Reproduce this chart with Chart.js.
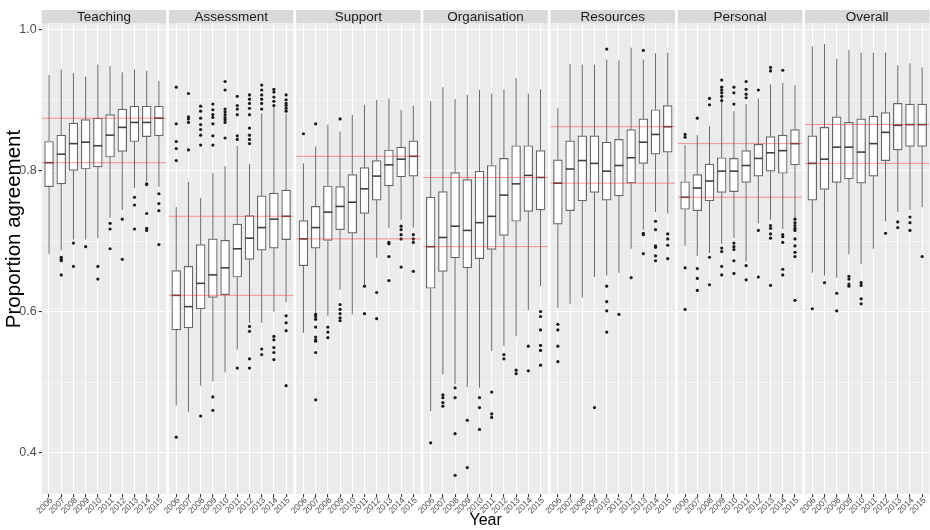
<!DOCTYPE html>
<html>
<head>
<meta charset="utf-8">
<script src="https://cdn.jsdelivr.net/npm/chart.js@4.4.1/dist/chart.umd.min.js"></script>
<style>
  body { margin: 0; background: #fff; }
  canvas { display: block; }
</style>
</head>
<body>
<canvas id="myChart" width="930" height="530"></canvas>
<script>
const facets = ["Teaching", "Assessment", "Support", "Organisation", "Resources", "Personal", "Overall"];
const years = ["2006", "2007", "2008", "2009", "2010", "2011", "2012", "2013", "2014", "2015"];

// one row per facet, one value per year
const whiskerLow = [
  [0.682, 0.687, 0.702, 0.702, 0.704, 0.733, 0.744, 0.775, 0.784, 0.777],
  [0.467, 0.458, 0.495, 0.501, 0.514, 0.546, 0.584, 0.584, 0.600, 0.613],
  [0.570, 0.598, 0.594, 0.631, 0.596, 0.638, 0.676, 0.718, 0.730, 0.719],
  [0.459, 0.511, 0.497, 0.493, 0.492, 0.544, 0.551, 0.565, 0.602, 0.636],
  [0.605, 0.611, 0.620, 0.649, 0.651, 0.655, 0.689, 0.716, 0.741, 0.739],
  [0.693, 0.679, 0.683, 0.696, 0.704, 0.671, 0.725, 0.730, 0.717, 0.733],
  [0.655, 0.651, 0.648, 0.681, 0.667, 0.689, 0.728, 0.741, 0.744, 0.748],
];
const q1 = [
  [0.777, 0.781, 0.800, 0.802, 0.805, 0.819, 0.827, 0.841, 0.848, 0.849],
  [0.574, 0.577, 0.604, 0.620, 0.624, 0.649, 0.674, 0.687, 0.690, 0.702],
  [0.665, 0.690, 0.701, 0.716, 0.711, 0.739, 0.758, 0.778, 0.791, 0.792],
  [0.633, 0.657, 0.676, 0.662, 0.675, 0.688, 0.708, 0.728, 0.742, 0.744],
  [0.724, 0.743, 0.757, 0.769, 0.758, 0.764, 0.782, 0.810, 0.823, 0.826],
  [0.745, 0.743, 0.757, 0.769, 0.770, 0.783, 0.792, 0.799, 0.796, 0.808],
  [0.758, 0.773, 0.783, 0.788, 0.782, 0.792, 0.814, 0.829, 0.834, 0.834],
];
const median = [
  [0.811, 0.823, 0.838, 0.840, 0.835, 0.850, 0.861, 0.868, 0.868, 0.874],
  [0.623, 0.607, 0.640, 0.652, 0.662, 0.689, 0.704, 0.719, 0.731, 0.735],
  [0.703, 0.719, 0.741, 0.749, 0.755, 0.774, 0.792, 0.808, 0.816, 0.820],
  [0.692, 0.705, 0.721, 0.715, 0.726, 0.735, 0.765, 0.781, 0.793, 0.790],
  [0.782, 0.802, 0.814, 0.810, 0.799, 0.807, 0.818, 0.840, 0.851, 0.862],
  [0.762, 0.775, 0.785, 0.799, 0.799, 0.807, 0.817, 0.825, 0.828, 0.838],
  [0.810, 0.816, 0.833, 0.833, 0.826, 0.838, 0.854, 0.864, 0.865, 0.865],
];
const q3 = [
  [0.841, 0.850, 0.867, 0.872, 0.874, 0.879, 0.887, 0.891, 0.891, 0.891],
  [0.658, 0.664, 0.695, 0.703, 0.701, 0.724, 0.736, 0.764, 0.768, 0.772],
  [0.729, 0.749, 0.778, 0.777, 0.794, 0.804, 0.814, 0.829, 0.833, 0.842],
  [0.762, 0.770, 0.797, 0.787, 0.799, 0.807, 0.817, 0.835, 0.835, 0.828],
  [0.815, 0.842, 0.849, 0.849, 0.840, 0.844, 0.858, 0.873, 0.886, 0.892],
  [0.784, 0.794, 0.809, 0.818, 0.817, 0.828, 0.837, 0.848, 0.850, 0.858],
  [0.849, 0.861, 0.876, 0.868, 0.873, 0.877, 0.882, 0.895, 0.894, 0.894],
];
const whiskerHigh = [
  [0.935, 0.943, 0.938, 0.933, 0.950, 0.948, 0.939, 0.943, 0.941, 0.927],
  [0.748, 0.784, 0.761, 0.796, 0.806, 0.835, 0.809, 0.881, 0.892, 0.880],
  [0.810, 0.834, 0.865, 0.855, 0.879, 0.893, 0.900, 0.902, 0.886, 0.892],
  [0.898, 0.918, 0.901, 0.907, 0.914, 0.909, 0.915, 0.931, 0.909, 0.915],
  [0.888, 0.951, 0.950, 0.950, 0.957, 0.956, 0.974, 0.957, 0.966, 0.967],
  [0.836, 0.850, 0.863, 0.905, 0.884, 0.894, 0.902, 0.922, 0.924, 0.921],
  [0.976, 0.979, 0.958, 0.971, 0.967, 0.967, 0.967, 0.949, 0.952, 0.946],
];
const outliers = [
  [[], [0.677, 0.674, 0.672, 0.652], [0.697, 0.664], [0.692], [0.664, 0.646], [0.725, 0.717, 0.689], [0.731, 0.674], [0.762, 0.751, 0.717], [0.781, 0.780, 0.739, 0.718, 0.715], [0.767, 0.753, 0.743, 0.695]],
  [[0.918, 0.866, 0.841, 0.831, 0.814, 0.422], [0.909, 0.876, 0.873, 0.868, 0.829], [0.891, 0.884, 0.874, 0.865, 0.858, 0.850, 0.836, 0.452], [0.894, 0.886, 0.879, 0.875, 0.866, 0.849, 0.836, 0.479, 0.460], [0.926, 0.914, 0.887, 0.883, 0.879, 0.875, 0.872, 0.868, 0.846], [0.905, 0.892, 0.887, 0.879, 0.849, 0.844, 0.520], [0.907, 0.901, 0.895, 0.888, 0.879, 0.860, 0.850, 0.844, 0.838, 0.579, 0.572, 0.533, 0.520], [0.921, 0.914, 0.907, 0.901, 0.895, 0.887, 0.547, 0.539], [0.915, 0.911, 0.904, 0.898, 0.892, 0.565, 0.560, 0.549, 0.542, 0.532], [0.907, 0.900, 0.895, 0.892, 0.888, 0.884, 0.594, 0.584, 0.573, 0.495]],
  [[0.852], [0.866, 0.596, 0.593, 0.589, 0.578, 0.564, 0.560, 0.558, 0.542, 0.475], [0.578, 0.571, 0.563], [0.873, 0.610, 0.603, 0.597, 0.591, 0.587], [], [0.636, 0.597], [0.627, 0.590], [0.698, 0.696, 0.678, 0.644], [0.721, 0.716, 0.709, 0.703, 0.663], [0.709, 0.703, 0.698, 0.657]],
  [[0.414], [0.482, 0.478, 0.471, 0.466], [0.492, 0.478, 0.427, 0.368], [0.446, 0.379], [0.478, 0.464, 0.433], [0.486, 0.455, 0.450], [0.539, 0.533], [0.517, 0.512], [0.551, 0.516], [0.600, 0.593, 0.574, 0.552, 0.545, 0.524]],
  [[0.582, 0.574, 0.551, 0.529], [], [], [0.464], [0.972, 0.636, 0.614, 0.601, 0.571], [0.596], [0.648], [0.970, 0.711, 0.709, 0.682], [0.728, 0.716, 0.693, 0.691, 0.679, 0.672], [0.710, 0.703, 0.694, 0.675]],
  [[0.851, 0.847, 0.662, 0.603], [0.874, 0.661, 0.647, 0.630], [0.902, 0.893, 0.677, 0.638], [0.928, 0.918, 0.914, 0.910, 0.905, 0.899, 0.690, 0.685, 0.664, 0.652], [0.918, 0.910, 0.894, 0.697, 0.692, 0.688, 0.672, 0.654], [0.926, 0.915, 0.908, 0.903, 0.665, 0.645], [0.914, 0.715, 0.649], [0.946, 0.941, 0.722, 0.718, 0.710, 0.704, 0.637], [0.942, 0.709, 0.706, 0.698, 0.660, 0.652], [0.731, 0.726, 0.722, 0.718, 0.715, 0.703, 0.693, 0.684, 0.678, 0.616]],
  [[0.604], [0.641], [0.626, 0.601], [0.650, 0.646, 0.639, 0.636], [0.641, 0.637, 0.618, 0.611], [], [0.711], [0.727, 0.719], [0.734, 0.726, 0.715], [0.678]],
];
const yTicks = [0.4, 0.5, 0.6, 0.7, 0.8, 0.9, 1.0];

// facet layout on the x axis (in box units)
const STEP = 10.42;
const PANEL_W = 10.2;
const FONT = "'Liberation Sans', Arial, sans-serif";

const boxX = [];
const boxes = [];
const outlierPts = [];
facets.forEach((name, f) => {
  years.forEach((yr, i) => {
    const x = f * STEP + 0.6 + i;
    boxX.push(x);
    boxes.push({ x: x, y: [q1[f][i], q3[f][i]], lo: whiskerLow[f][i], hi: whiskerHigh[f][i], med: median[f][i] });
    outliers[f][i].forEach((v) => outlierPts.push({ x: x, y: v }));
  });
});

// red reference lines at first and last year medians
const refSets = [];
facets.forEach((name, f) => {
  [median[f][0], median[f][9]].forEach((m) => {
    refSets.push({
      type: "line",
      data: [{ x: f * STEP, y: m }, { x: f * STEP + PANEL_W, y: m }],
      borderColor: "rgba(255, 50, 50, 0.5)",
      borderWidth: 1,
      pointRadius: 0,
      order: 1,
    });
  });
});

const panels = {
  id: "panels",
  beforeDraw(chart) {
    const { ctx, chartArea, scales } = chart;
    ctx.save();
    facets.forEach((name, f) => {
      const a = scales.x.getPixelForValue(f * STEP);
      const b = scales.x.getPixelForValue(f * STEP + PANEL_W);
      ctx.fillStyle = "#ebebeb";
      ctx.fillRect(a, chartArea.top, b - a, chartArea.bottom - chartArea.top);
      ctx.fillStyle = "#d9d9d9";
      ctx.fillRect(a, 10, b - a, chartArea.top - 10);
      ctx.fillStyle = "#1a1a1a";
      ctx.font = "13.5px " + FONT;
      ctx.textAlign = "center";
      ctx.textBaseline = "middle";
      ctx.fillText(name, (a + b) / 2, (10 + chartArea.top) / 2 + 0.5);
    });
    // year labels, rotated 45 degrees under each box
    ctx.fillStyle = "#4d4d4d";
    ctx.font = "8.5px " + FONT;
    ctx.textAlign = "right";
    ctx.textBaseline = "middle";
    boxX.forEach((v, k) => {
      ctx.save();
      ctx.translate(scales.x.getPixelForValue(v) + 2.5, chartArea.bottom + 5);
      ctx.rotate(-Math.PI / 4);
      ctx.fillText(years[k % years.length], 0, 0);
      ctx.restore();
    });
    // y axis title
    ctx.translate(14, 229);
    ctx.rotate(-Math.PI / 2);
    ctx.fillStyle = "#000000";
    ctx.font = "20.5px " + FONT;
    ctx.textAlign = "center";
    ctx.fillText("Proportion agreement", 0, 0);
    ctx.restore();
  },
  beforeDatasetsDraw(chart) {
    const { ctx, scales } = chart;
    const meta = chart.getDatasetMeta(0);
    ctx.save();
    ctx.strokeStyle = "#6a6a6a";
    ctx.lineWidth = 1;
    boxes.forEach((b, k) => {
      const el = meta.data[k];
      ctx.beginPath();
      ctx.moveTo(el.x, scales.y.getPixelForValue(b.lo));
      ctx.lineTo(el.x, scales.y.getPixelForValue(b.y[0]));
      ctx.moveTo(el.x, scales.y.getPixelForValue(b.y[1]));
      ctx.lineTo(el.x, scales.y.getPixelForValue(b.hi));
      ctx.stroke();
    });
    ctx.restore();
  },
  afterDatasetDraw(chart, args) {
    if (args.index !== 0) return;
    const { ctx, scales } = chart;
    ctx.save();
    ctx.strokeStyle = "#404040";
    ctx.lineWidth = 1.6;
    args.meta.data.forEach((el, k) => {
      const y = scales.y.getPixelForValue(boxes[k].med);
      ctx.beginPath();
      ctx.moveTo(el.x - el.width / 2, y);
      ctx.lineTo(el.x + el.width / 2, y);
      ctx.stroke();
    });
    ctx.restore();
  },
};

new Chart(document.getElementById("myChart"), {
  data: {
    datasets: [
      {
        type: "bar",
        data: boxes,
        backgroundColor: "#ffffff",
        borderColor: "#666666",
        borderWidth: 1.2,
        borderSkipped: false,
        barThickness: 8.8,
        order: 3,
      },
      {
        type: "scatter",
        data: outlierPts,
        backgroundColor: "#1a1a1a",
        borderWidth: 0,
        pointRadius: 1.6,
        order: 2,
      },
      ...refSets,
    ],
  },
  options: {
    responsive: false,
    animation: false,
    layout: { autoPadding: false, padding: { top: 23.3, right: 0.5, left: 0, bottom: 0 } },
    plugins: { legend: { display: false }, tooltip: { enabled: false } },
    scales: {
      x: {
        type: "linear",
        offset: false,
        min: 0,
        max: 6 * STEP + PANEL_W,
        afterBuildTicks: (s) => {
          s.ticks = boxX.map((v) => ({ value: v }));
        },
        afterFit: (s) => {
          s.height = 36;
        },
        border: { display: false },
        grid: { offset: false, color: "#ffffff", lineWidth: 1.1, tickColor: "#333333", tickLength: 3 },
        ticks: { display: false },
        title: { display: true, text: "Year", color: "#000000", font: { family: FONT, size: 16 }, padding: { top: 0, bottom: 0 } },
      },
      y: {
        type: "linear",
        min: 0.3415,
        max: 1.0085,
        afterBuildTicks: (s) => {
          s.ticks = yTicks.map((v) => ({ value: v }));
        },
        afterFit: (s) => {
          s.width = 41.7;
          s.paddingTop = 0;
          s.paddingBottom = 0;
        },
        border: { display: false },
        grid: {
          color: "#ffffff",
          lineWidth: (c) => (Math.round(c.tick.value * 10) % 2 === 0 ? 1.1 : 0.5),
          tickColor: (c) => (Math.round(c.tick.value * 10) % 2 === 0 ? "#333333" : "rgba(0,0,0,0)"),
          tickLength: 3,
        },
        ticks: {
          padding: 2,
          color: "#4d4d4d",
          font: { family: FONT, size: 12.5 },
          callback: (v) => (Math.round(v * 10) % 2 === 0 ? v.toFixed(1) : ""),
        },
      },
    },
  },
  plugins: [panels],
});
</script>
</body>
</html>
